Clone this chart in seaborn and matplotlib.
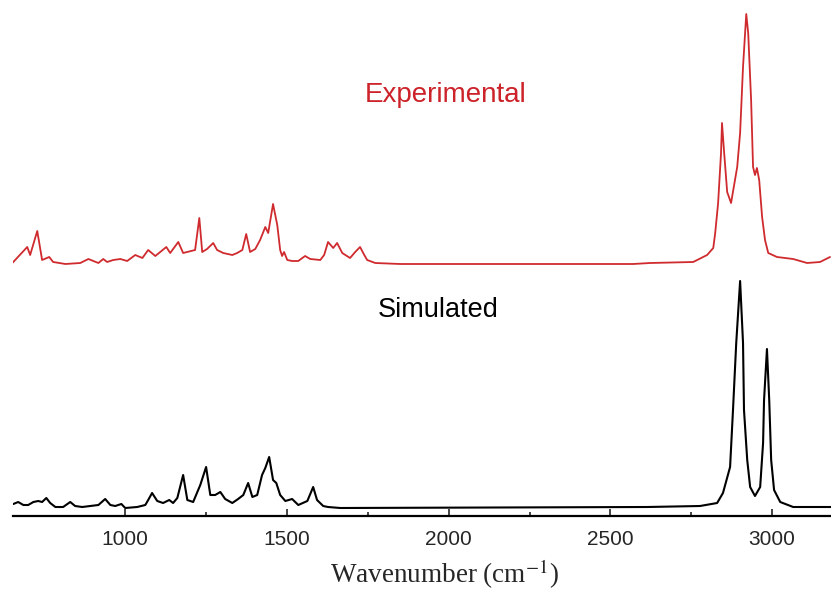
import matplotlib
matplotlib.use('Agg')
import matplotlib.pyplot as plt
from matplotlib.ticker import FixedLocator
import pandas as pd
import seaborn as sns

# Experimental spectrum (wavenumber, intensity above baseline)
exp_wn = [651, 697, 706, 728, 743, 765, 777, 815, 861, 886, 917, 932, 944, 963,
          985, 1006, 1031, 1053, 1071, 1093, 1127, 1139, 1164, 1179, 1216, 1229,
          1238, 1253, 1272, 1284, 1303, 1331, 1346, 1362, 1374, 1386, 1402, 1417,
          1433, 1442, 1457, 1470, 1479, 1485, 1491, 1501, 1516, 1535, 1556, 1572,
          1603, 1615, 1627, 1643, 1655, 1671, 1695, 1711, 1726, 1739, 1748, 1773,
          1850, 2159, 2570, 2623, 2756, 2799, 2818, 2824, 2833, 2842, 2845, 2851,
          2861, 2873, 2892, 2901, 2910, 2920, 2926, 2935, 2941, 2947, 2953, 2960,
          2969, 2978, 2988, 3015, 3065, 3108, 3148, 3179]
exp_int = [1, 17, 9, 33, 4, 7, 2, 0, 1, 5, 1, 5, 2, 4,
           5, 3, 9, 6, 14, 8, 17, 11, 22, 11, 14, 46,
           12, 15, 21, 14, 11, 9, 11, 14, 30, 12, 15, 24,
           37, 31, 60, 39, 14, 8, 12, 4, 3, 3, 8, 5,
           4, 9, 22, 16, 21, 11, 6, 12, 17, 9, 4, 1,
           0, 0, 0, 1, 2, 9, 16, 31, 61, 111, 141, 114,
           72, 61, 97, 131, 197, 250, 231, 164, 97, 89, 96, 84,
           47, 24, 11, 7, 5, 1, 2, 7]

# Simulated spectrum
sim_wn = [654, 669, 685, 700, 716, 731, 743, 756, 768, 784, 808, 830, 845, 867,
          892, 917, 938, 954, 969, 988, 1000, 1037, 1062, 1071, 1083, 1099, 1117,
          1136, 1148, 1161, 1179, 1192, 1210, 1232, 1250, 1263, 1278, 1294, 1309,
          1331, 1349, 1365, 1380, 1393, 1408, 1423, 1433, 1445, 1457, 1467, 1479,
          1495, 1516, 1535, 1563, 1581, 1593, 1612, 1627, 1665, 2614, 2777, 2830,
          2848, 2870, 2879, 2889, 2901, 2910, 2913, 2923, 2932, 2947, 2963, 2972,
          2975, 2984, 2991, 2997, 3006, 3025, 3065, 3182]
sim_int = [4, 6, 3, 3, 6, 7, 6, 10, 5, 1, 1, 6, 2, 1,
           2, 3, 9, 3, 2, 4, 0, 1, 3, 8, 15, 7, 5,
           8, 5, 10, 33, 8, 6, 23, 41, 13, 13, 16, 9,
           5, 9, 13, 25, 11, 13, 33, 40, 51, 28, 25, 13,
           7, 9, 3, 7, 21, 8, 2, 1, 0, 1, 2, 5,
           15, 41, 98, 165, 227, 165, 98, 48, 21, 12, 21, 65,
           108, 159, 108, 48, 18, 6, 1, 1]

exp_offset = 252
sim_offset = 8

exp_df = pd.DataFrame({'wn': exp_wn, 'y': [v + exp_offset for v in exp_int]})
sim_df = pd.DataFrame({'wn': sim_wn, 'y': [v + sim_offset for v in sim_int]})

sns.set_style('white')
plt.rcParams['font.family'] = ['Liberation Sans', 'DejaVu Sans']
plt.rcParams['mathtext.fontset'] = 'stix'

fig = plt.figure(figsize=(8.31, 5.91), dpi=100)
ax = fig.add_axes([13 / 831, 1 - 516 / 591, 1 - 13 / 831, 516 / 591])

sns.lineplot(data=exp_df, x='wn', y='y', ax=ax, color='#cf2a2e', lw=1.3, sort=False)
sns.lineplot(data=sim_df, x='wn', y='y', ax=ax, color='black', lw=1.5, sort=False)

ax.set_xlim(653, 3182)
ax.set_ylim(0, 516)

ax.text(1989, 421, 'Experimental', color='#cc2229', fontsize=20, ha='center', va='center')
ax.text(1967, 206, 'Simulated', color='black', fontsize=19.5, ha='center', va='center')

for side in ['top', 'left', 'right']:
    ax.spines[side].set_visible(False)
ax.spines['bottom'].set_linewidth(1.6)
ax.spines['bottom'].set_color('black')

ax.set_xticks([1000, 1500, 2000, 2500, 3000])
ax.xaxis.set_minor_locator(FixedLocator([1250, 1750, 2250, 2750]))
ax.tick_params(axis='x', which='major', direction='in', length=5, width=1.2,
               labelsize=15, pad=10, bottom=True)
ax.tick_params(axis='x', which='minor', direction='in', length=3, width=1.2, bottom=True)
ax.set_yticks([])
ax.set_ylabel('')
xlabel = ax.set_xlabel('Wavenumber (cm$^{-1}$)', fontsize=19.5, family=['Liberation Serif'])
xlabel.set_verticalalignment('center')
ax.xaxis.set_label_coords(0.527, -0.113)

fig.savefig('out.png', dpi=100)
